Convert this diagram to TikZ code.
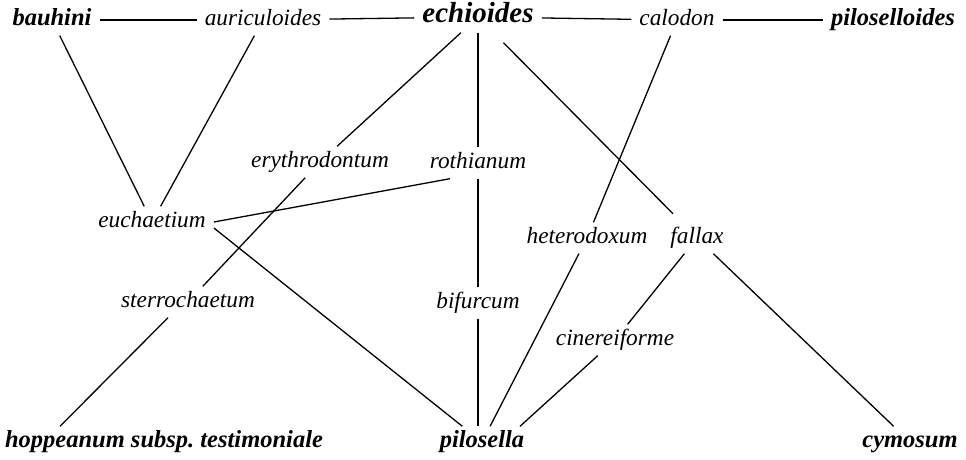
\documentclass[tikz,border=0pt]{standalone}
\usepackage{fontspec}
\setmainfont{Liberation Serif}
\usepackage{tikz}

\begin{document}
\begin{tikzpicture}[x=1pt, y=-1pt,
  taxon/.style={inner xsep=8pt, inner ysep=5pt, text height=16pt, text depth=5pt, font=\fontsize{23.3}{28}\selectfont\itshape},
  parent/.style={taxon, font=\fontsize{24.5}{28}\selectfont\bfseries\itshape},
  link/.style={line width=1.3pt}]
\useasboundingbox (0,0) rectangle (966,460);

\node[parent] (bauhini) at (52,20) {bauhini};
\node[taxon] (auriculoides) at (263,20) {auriculoides};
\node[parent, font=\fontsize{29}{32}\selectfont\bfseries\itshape] (echioides) at (478,17) {echioides};
\node[taxon] (calodon) at (677,20) {calodon};
\node[parent] (piloselloides) at (893,20) {piloselloides};
\node[taxon] (erythrodontum) at (320,162) {erythrodontum};
\node[taxon] (rothianum) at (478,163) {rothianum};
\node[taxon] (euchaetium) at (152,222) {euchaetium};
\node[taxon] (heterodoxum) at (587,238) {heterodoxum};
\node[taxon] (fallax) at (697,238) {fallax};
\node[taxon] (sterrochaetum) at (188,302) {sterrochaetum};
\node[taxon] (bifurcum) at (478,303) {bifurcum};
\node[taxon] (cinereiforme) at (615,340) {cinereiforme};
\node[parent] (hoppeanum) at (164,442) {hoppeanum subsp.\ testimoniale};
\node[parent] (pilosella) at (482,442) {pilosella};
\node[parent] (cymosum) at (910,442) {cymosum};

\draw[link] (bauhini) -- (auriculoides);
\draw[link] (auriculoides) -- (echioides);
\draw[link] (echioides) -- (calodon);
\draw[link] (calodon) -- (piloselloides);
\draw[link] (bauhini) -- (euchaetium);
\draw[link] (auriculoides) -- (euchaetium);
\draw[link] (echioides) -- (erythrodontum);
\draw[link] (echioides) -- (rothianum);
\draw[link, shorten <=14pt, shorten >=12pt] (echioides) -- (fallax);
\draw[link] (calodon) -- (heterodoxum);
\draw[link] ([xshift=-28pt]rothianum.south) -- (euchaetium.east);
\draw[link] (erythrodontum) -- (sterrochaetum);
\draw[link] ([yshift=-6pt]euchaetium.east) -- (pilosella);
\draw[link] (rothianum) -- (bifurcum);
\draw[link] (bifurcum) -- (bifurcum |- pilosella.north);
\draw[link] (heterodoxum) -- (pilosella);
\draw[link] (fallax) -- (cinereiforme);
\draw[link] (cinereiforme) -- ([xshift=38pt]pilosella.north);
\draw[link] (fallax) -- (cymosum);
\draw[link] ([xshift=-20pt]sterrochaetum.south) -- ([xshift=-104pt]hoppeanum.north);
\end{tikzpicture}
\end{document}
